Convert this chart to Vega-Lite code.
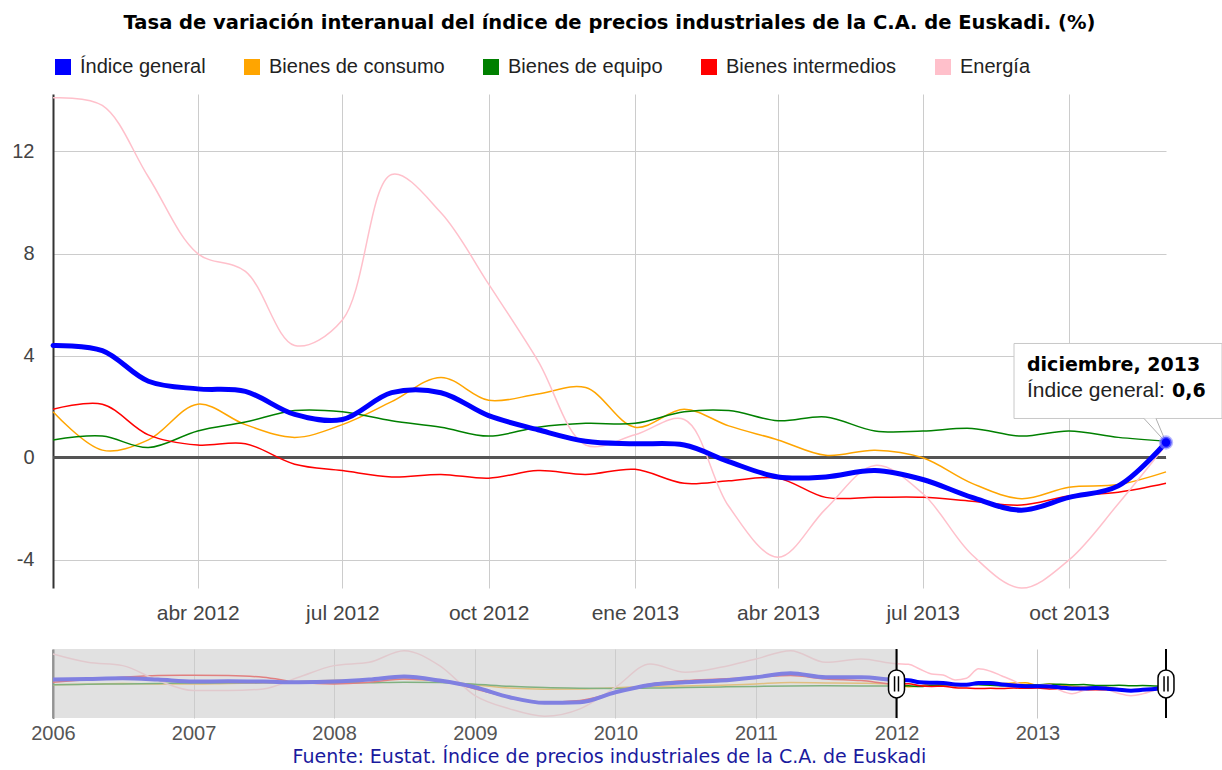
{
  "$schema": "https://vega.github.io/schema/vega-lite/v6.json",
  "padding": {"left": 11, "top": 12, "right": 0, "bottom": 0},
  "background": "white",
  "bounds": "flush",
  "spacing": 61,
  "resolve": {"scale": {"color": "independent"}, "legend": {"color": "independent"}},
  "config": {"view": {"stroke": null}, "axis": {"labelFont": "Liberation Sans", "titleFont": "Liberation Sans"}},
  "datasets": {
    "series": [
      {"fecha":"2006-01-01","serie":"Índice general","valor":4.6},{"fecha":"2006-04-01","serie":"Índice general","valor":5.0},{"fecha":"2006-07-01","serie":"Índice general","valor":5.4},{"fecha":"2006-10-01","serie":"Índice general","valor":4.6},
      {"fecha":"2007-01-01","serie":"Índice general","valor":3.4},{"fecha":"2007-04-01","serie":"Índice general","valor":3.6},{"fecha":"2007-07-01","serie":"Índice general","valor":3.4},{"fecha":"2007-10-01","serie":"Índice general","valor":3.0},
      {"fecha":"2008-01-01","serie":"Índice general","valor":3.4},{"fecha":"2008-04-01","serie":"Índice general","valor":4.6},{"fecha":"2008-07-01","serie":"Índice general","valor":6.4},{"fecha":"2008-10-01","serie":"Índice general","valor":4.0},
      {"fecha":"2009-01-01","serie":"Índice general","valor":0.0},{"fecha":"2009-04-01","serie":"Índice general","valor":-6.0},{"fecha":"2009-07-01","serie":"Índice general","valor":-9.4},{"fecha":"2009-10-01","serie":"Índice general","valor":-9.0},
      {"fecha":"2010-01-01","serie":"Índice general","valor":-3.0},{"fecha":"2010-04-01","serie":"Índice general","valor":1.4},{"fecha":"2010-07-01","serie":"Índice general","valor":3.0},{"fecha":"2010-10-01","serie":"Índice general","valor":4.0},
      {"fecha":"2011-01-01","serie":"Índice general","valor":6.0},{"fecha":"2011-04-01","serie":"Índice general","valor":8.4},{"fecha":"2011-07-01","serie":"Índice general","valor":6.0},{"fecha":"2011-10-01","serie":"Índice general","valor":6.0},
      {"fecha":"2012-01-01","serie":"Índice general","valor":4.4},{"fecha":"2012-02-01","serie":"Índice general","valor":4.2},{"fecha":"2012-03-01","serie":"Índice general","valor":3.0},{"fecha":"2012-04-01","serie":"Índice general","valor":2.7},
      {"fecha":"2012-05-01","serie":"Índice general","valor":2.6},{"fecha":"2012-06-01","serie":"Índice general","valor":1.7},{"fecha":"2012-07-01","serie":"Índice general","valor":1.5},{"fecha":"2012-08-01","serie":"Índice general","valor":2.55},
      {"fecha":"2012-09-01","serie":"Índice general","valor":2.55},{"fecha":"2012-10-01","serie":"Índice general","valor":1.65},{"fecha":"2012-11-01","serie":"Índice general","valor":1.1},{"fecha":"2012-12-01","serie":"Índice general","valor":0.65},
      {"fecha":"2013-01-01","serie":"Índice general","valor":0.55},{"fecha":"2013-02-01","serie":"Índice general","valor":0.5},{"fecha":"2013-03-01","serie":"Índice general","valor":-0.15},{"fecha":"2013-04-01","serie":"Índice general","valor":-0.75},
      {"fecha":"2013-05-01","serie":"Índice general","valor":-0.75},{"fecha":"2013-06-01","serie":"Índice general","valor":-0.5},{"fecha":"2013-07-01","serie":"Índice general","valor":-0.85},{"fecha":"2013-08-01","serie":"Índice general","valor":-1.55},
      {"fecha":"2013-09-01","serie":"Índice general","valor":-2.05},{"fecha":"2013-10-01","serie":"Índice general","valor":-1.55},{"fecha":"2013-11-01","serie":"Índice general","valor":-1.1},{"fecha":"2013-12-01","serie":"Índice general","valor":0.6},

      {"fecha":"2006-01-01","serie":"Bienes de consumo","valor":1.5},{"fecha":"2006-04-01","serie":"Bienes de consumo","valor":1.8},{"fecha":"2006-07-01","serie":"Bienes de consumo","valor":2.2},{"fecha":"2006-10-01","serie":"Bienes de consumo","valor":2.0},
      {"fecha":"2007-01-01","serie":"Bienes de consumo","valor":2.0},{"fecha":"2007-04-01","serie":"Bienes de consumo","valor":2.3},{"fecha":"2007-07-01","serie":"Bienes de consumo","valor":2.5},{"fecha":"2007-10-01","serie":"Bienes de consumo","valor":3.5},
      {"fecha":"2008-01-01","serie":"Bienes de consumo","valor":4.2},{"fecha":"2008-04-01","serie":"Bienes de consumo","valor":4.5},{"fecha":"2008-07-01","serie":"Bienes de consumo","valor":4.8},{"fecha":"2008-10-01","serie":"Bienes de consumo","valor":3.8},
      {"fecha":"2009-01-01","serie":"Bienes de consumo","valor":1.5},{"fecha":"2009-04-01","serie":"Bienes de consumo","valor":-0.5},{"fecha":"2009-07-01","serie":"Bienes de consumo","valor":-1.2},{"fecha":"2009-10-01","serie":"Bienes de consumo","valor":-1.0},
      {"fecha":"2010-01-01","serie":"Bienes de consumo","valor":-0.3},{"fecha":"2010-04-01","serie":"Bienes de consumo","valor":0.4},{"fecha":"2010-07-01","serie":"Bienes de consumo","valor":0.8},{"fecha":"2010-10-01","serie":"Bienes de consumo","valor":1.2},
      {"fecha":"2011-01-01","serie":"Bienes de consumo","valor":2.0},{"fecha":"2011-04-01","serie":"Bienes de consumo","valor":2.8},{"fecha":"2011-07-01","serie":"Bienes de consumo","valor":2.6},{"fecha":"2011-10-01","serie":"Bienes de consumo","valor":2.4},
      {"fecha":"2012-01-01","serie":"Bienes de consumo","valor":1.8},{"fecha":"2012-02-01","serie":"Bienes de consumo","valor":0.3},{"fecha":"2012-03-01","serie":"Bienes de consumo","valor":0.7},{"fecha":"2012-04-01","serie":"Bienes de consumo","valor":2.1},
      {"fecha":"2012-05-01","serie":"Bienes de consumo","valor":1.3},{"fecha":"2012-06-01","serie":"Bienes de consumo","valor":0.8},{"fecha":"2012-07-01","serie":"Bienes de consumo","valor":1.3},{"fecha":"2012-08-01","serie":"Bienes de consumo","valor":2.2},
      {"fecha":"2012-09-01","serie":"Bienes de consumo","valor":3.15},{"fecha":"2012-10-01","serie":"Bienes de consumo","valor":2.25},{"fecha":"2012-11-01","serie":"Bienes de consumo","valor":2.5},{"fecha":"2012-12-01","serie":"Bienes de consumo","valor":2.75},
      {"fecha":"2013-01-01","serie":"Bienes de consumo","valor":1.2},{"fecha":"2013-02-01","serie":"Bienes de consumo","valor":1.9},{"fecha":"2013-03-01","serie":"Bienes de consumo","valor":1.25},{"fecha":"2013-04-01","serie":"Bienes de consumo","valor":0.7},
      {"fecha":"2013-05-01","serie":"Bienes de consumo","valor":0.1},{"fecha":"2013-06-01","serie":"Bienes de consumo","valor":0.3},{"fecha":"2013-07-01","serie":"Bienes de consumo","valor":0.0},{"fecha":"2013-08-01","serie":"Bienes de consumo","valor":-1.0},
      {"fecha":"2013-09-01","serie":"Bienes de consumo","valor":-1.6},{"fecha":"2013-10-01","serie":"Bienes de consumo","valor":-1.15},{"fecha":"2013-11-01","serie":"Bienes de consumo","valor":-1.05},{"fecha":"2013-12-01","serie":"Bienes de consumo","valor":-0.55},

      {"fecha":"2006-01-01","serie":"Bienes de equipo","valor":1.5},{"fecha":"2006-04-01","serie":"Bienes de equipo","valor":1.8},{"fecha":"2006-07-01","serie":"Bienes de equipo","valor":2.0},{"fecha":"2006-10-01","serie":"Bienes de equipo","valor":2.3},
      {"fecha":"2007-01-01","serie":"Bienes de equipo","valor":2.5},{"fecha":"2007-04-01","serie":"Bienes de equipo","valor":2.7},{"fecha":"2007-07-01","serie":"Bienes de equipo","valor":2.8},{"fecha":"2007-10-01","serie":"Bienes de equipo","valor":2.6},
      {"fecha":"2008-01-01","serie":"Bienes de equipo","valor":2.5},{"fecha":"2008-04-01","serie":"Bienes de equipo","valor":2.7},{"fecha":"2008-07-01","serie":"Bienes de equipo","valor":3.0},{"fecha":"2008-10-01","serie":"Bienes de equipo","valor":2.8},
      {"fecha":"2009-01-01","serie":"Bienes de equipo","valor":1.8},{"fecha":"2009-04-01","serie":"Bienes de equipo","valor":0.6},{"fecha":"2009-07-01","serie":"Bienes de equipo","valor":-0.2},{"fecha":"2009-10-01","serie":"Bienes de equipo","valor":-0.6},
      {"fecha":"2010-01-01","serie":"Bienes de equipo","valor":-0.8},{"fecha":"2010-04-01","serie":"Bienes de equipo","valor":-0.5},{"fecha":"2010-07-01","serie":"Bienes de equipo","valor":-0.2},{"fecha":"2010-10-01","serie":"Bienes de equipo","valor":0.2},
      {"fecha":"2011-01-01","serie":"Bienes de equipo","valor":0.5},{"fecha":"2011-04-01","serie":"Bienes de equipo","valor":0.8},{"fecha":"2011-07-01","serie":"Bienes de equipo","valor":0.9},{"fecha":"2011-10-01","serie":"Bienes de equipo","valor":0.8},
      {"fecha":"2012-01-01","serie":"Bienes de equipo","valor":0.7},{"fecha":"2012-02-01","serie":"Bienes de equipo","valor":0.85},{"fecha":"2012-03-01","serie":"Bienes de equipo","valor":0.4},{"fecha":"2012-04-01","serie":"Bienes de equipo","valor":1.05},
      {"fecha":"2012-05-01","serie":"Bienes de equipo","valor":1.4},{"fecha":"2012-06-01","serie":"Bienes de equipo","valor":1.85},{"fecha":"2012-07-01","serie":"Bienes de equipo","valor":1.8},{"fecha":"2012-08-01","serie":"Bienes de equipo","valor":1.45},
      {"fecha":"2012-09-01","serie":"Bienes de equipo","valor":1.2},{"fecha":"2012-10-01","serie":"Bienes de equipo","valor":0.85},{"fecha":"2012-11-01","serie":"Bienes de equipo","valor":1.2},{"fecha":"2012-12-01","serie":"Bienes de equipo","valor":1.35},
      {"fecha":"2013-01-01","serie":"Bienes de equipo","valor":1.35},{"fecha":"2013-02-01","serie":"Bienes de equipo","valor":1.8},{"fecha":"2013-03-01","serie":"Bienes de equipo","valor":1.85},{"fecha":"2013-04-01","serie":"Bienes de equipo","valor":1.45},
      {"fecha":"2013-05-01","serie":"Bienes de equipo","valor":1.6},{"fecha":"2013-06-01","serie":"Bienes de equipo","valor":1.05},{"fecha":"2013-07-01","serie":"Bienes de equipo","valor":1.05},{"fecha":"2013-08-01","serie":"Bienes de equipo","valor":1.15},
      {"fecha":"2013-09-01","serie":"Bienes de equipo","valor":0.85},{"fecha":"2013-10-01","serie":"Bienes de equipo","valor":1.05},{"fecha":"2013-11-01","serie":"Bienes de equipo","valor":0.8},{"fecha":"2013-12-01","serie":"Bienes de equipo","valor":0.65},

      {"fecha":"2006-01-01","serie":"Bienes intermedios","valor":3.0},{"fecha":"2006-04-01","serie":"Bienes intermedios","valor":4.5},{"fecha":"2006-07-01","serie":"Bienes intermedios","valor":6.0},{"fecha":"2006-10-01","serie":"Bienes intermedios","valor":7.0},
      {"fecha":"2007-01-01","serie":"Bienes intermedios","valor":7.2},{"fecha":"2007-04-01","serie":"Bienes intermedios","valor":7.0},{"fecha":"2007-07-01","serie":"Bienes intermedios","valor":6.0},{"fecha":"2007-10-01","serie":"Bienes intermedios","valor":3.0},
      {"fecha":"2008-01-01","serie":"Bienes intermedios","valor":2.0},{"fecha":"2008-04-01","serie":"Bienes intermedios","valor":3.0},{"fecha":"2008-07-01","serie":"Bienes intermedios","valor":5.0},{"fecha":"2008-10-01","serie":"Bienes intermedios","valor":4.0},
      {"fecha":"2009-01-01","serie":"Bienes intermedios","valor":-1.0},{"fecha":"2009-04-01","serie":"Bienes intermedios","valor":-6.0},{"fecha":"2009-07-01","serie":"Bienes intermedios","valor":-9.0},{"fecha":"2009-10-01","serie":"Bienes intermedios","valor":-8.0},
      {"fecha":"2010-01-01","serie":"Bienes intermedios","valor":-3.0},{"fecha":"2010-04-01","serie":"Bienes intermedios","valor":2.0},{"fecha":"2010-07-01","serie":"Bienes intermedios","valor":4.0},{"fecha":"2010-10-01","serie":"Bienes intermedios","valor":5.0},
      {"fecha":"2011-01-01","serie":"Bienes intermedios","valor":6.0},{"fecha":"2011-04-01","serie":"Bienes intermedios","valor":7.0},{"fecha":"2011-07-01","serie":"Bienes intermedios","valor":5.0},{"fecha":"2011-10-01","serie":"Bienes intermedios","valor":4.0},
      {"fecha":"2012-01-01","serie":"Bienes intermedios","valor":1.9},{"fecha":"2012-02-01","serie":"Bienes intermedios","valor":2.1},{"fecha":"2012-03-01","serie":"Bienes intermedios","valor":0.9},{"fecha":"2012-04-01","serie":"Bienes intermedios","valor":0.5},
      {"fecha":"2012-05-01","serie":"Bienes intermedios","valor":0.55},{"fecha":"2012-06-01","serie":"Bienes intermedios","valor":-0.25},{"fecha":"2012-07-01","serie":"Bienes intermedios","valor":-0.5},{"fecha":"2012-08-01","serie":"Bienes intermedios","valor":-0.75},
      {"fecha":"2012-09-01","serie":"Bienes intermedios","valor":-0.65},{"fecha":"2012-10-01","serie":"Bienes intermedios","valor":-0.8},{"fecha":"2012-11-01","serie":"Bienes intermedios","valor":-0.5},{"fecha":"2012-12-01","serie":"Bienes intermedios","valor":-0.65},
      {"fecha":"2013-01-01","serie":"Bienes intermedios","valor":-0.45},{"fecha":"2013-02-01","serie":"Bienes intermedios","valor":-1.0},{"fecha":"2013-03-01","serie":"Bienes intermedios","valor":-0.9},{"fecha":"2013-04-01","serie":"Bienes intermedios","valor":-0.8},
      {"fecha":"2013-05-01","serie":"Bienes intermedios","valor":-1.55},{"fecha":"2013-06-01","serie":"Bienes intermedios","valor":-1.55},{"fecha":"2013-07-01","serie":"Bienes intermedios","valor":-1.55},{"fecha":"2013-08-01","serie":"Bienes intermedios","valor":-1.7},
      {"fecha":"2013-09-01","serie":"Bienes intermedios","valor":-1.85},{"fecha":"2013-10-01","serie":"Bienes intermedios","valor":-1.5},{"fecha":"2013-11-01","serie":"Bienes intermedios","valor":-1.35},{"fecha":"2013-12-01","serie":"Bienes intermedios","valor":-1.0},

      {"fecha":"2006-01-01","serie":"Energía","valor":20},{"fecha":"2006-04-01","serie":"Energía","valor":15},{"fecha":"2006-07-01","serie":"Energía","valor":13},{"fecha":"2006-10-01","serie":"Energía","valor":4},
      {"fecha":"2007-01-01","serie":"Energía","valor":-2},{"fecha":"2007-04-01","serie":"Energía","valor":-2},{"fecha":"2007-07-01","serie":"Energía","valor":-1},{"fecha":"2007-10-01","serie":"Energía","valor":6},
      {"fecha":"2008-01-01","serie":"Energía","valor":13},{"fecha":"2008-04-01","serie":"Energía","valor":15},{"fecha":"2008-07-01","serie":"Energía","valor":22},{"fecha":"2008-10-01","serie":"Energía","valor":13},
      {"fecha":"2009-01-01","serie":"Energía","valor":-5},{"fecha":"2009-04-01","serie":"Energía","valor":-13},{"fecha":"2009-07-01","serie":"Energía","valor":-17.4},{"fecha":"2009-10-01","serie":"Energía","valor":-13},
      {"fecha":"2010-01-01","serie":"Energía","valor":0},{"fecha":"2010-04-01","serie":"Energía","valor":14},{"fecha":"2010-07-01","serie":"Energía","valor":9},{"fecha":"2010-10-01","serie":"Energía","valor":12},
      {"fecha":"2011-01-01","serie":"Energía","valor":17},{"fecha":"2011-04-01","serie":"Energía","valor":22},{"fecha":"2011-07-01","serie":"Energía","valor":15},{"fecha":"2011-10-01","serie":"Energía","valor":17},
      {"fecha":"2012-01-01","serie":"Energía","valor":14.1},{"fecha":"2012-02-01","serie":"Energía","valor":13.8},{"fecha":"2012-03-01","serie":"Energía","valor":11.0},{"fecha":"2012-04-01","serie":"Energía","valor":8.0},
      {"fecha":"2012-05-01","serie":"Energía","valor":7.3},{"fecha":"2012-06-01","serie":"Energía","valor":4.4},{"fecha":"2012-07-01","serie":"Energía","valor":5.4},{"fecha":"2012-08-01","serie":"Energía","valor":11.1},
      {"fecha":"2012-09-01","serie":"Energía","valor":9.6},{"fecha":"2012-10-01","serie":"Energía","valor":6.8},{"fecha":"2012-11-01","serie":"Energía","valor":3.8},{"fecha":"2012-12-01","serie":"Energía","valor":0.5},
      {"fecha":"2013-01-01","serie":"Energía","valor":0.9},{"fecha":"2013-02-01","serie":"Energía","valor":1.5},{"fecha":"2013-03-01","serie":"Energía","valor":-1.9},{"fecha":"2013-04-01","serie":"Energía","valor":-3.9},
      {"fecha":"2013-05-01","serie":"Energía","valor":-2.0},{"fecha":"2013-06-01","serie":"Energía","valor":-0.3},{"fecha":"2013-07-01","serie":"Energía","valor":-1.4},{"fecha":"2013-08-01","serie":"Energía","valor":-3.8},
      {"fecha":"2013-09-01","serie":"Energía","valor":-5.1},{"fecha":"2013-10-01","serie":"Energía","valor":-4.0},{"fecha":"2013-11-01","serie":"Energía","valor":-1.8},{"fecha":"2013-12-01","serie":"Energía","valor":0.5}
    ],
    "anotacion": [{"fecha":"2013-12-01","valor":0.6,"mes":"diciembre, 2013","etiqueta":"Índice general:","dato":"0,6"}],
    "seleccion": [{"inicio":"2006-01-01","fin":"2012-01-01"}],
    "asas": [{"fecha":"2012-01-01"},{"fecha":"2013-12-01"}]
  },
  "vconcat": [
    {
      "title": {"text": "Tasa de variación interanual del índice de precios industriales de la C.A. de Euskadi. (%)", "font": "DejaVu Sans", "fontSize": 19.5, "fontWeight": "bold", "color": "#000000", "anchor": "middle", "frame": "group", "offset": 24},
      "width": 1113,
      "height": 494,
      "layer": [
        {
          "data": {"name": "series"},
          "mark": {"type": "rule", "color": "#555555", "strokeWidth": 2},
          "encoding": {"y": {"datum": 0, "type": "quantitative", "scale": {"domain": [-5.1, 14.25], "nice": false, "zero": false}}}
        },
        {
          "data": {"name": "series"},
          "transform": [{"filter": "utcyear(datum.fecha) >= 2012 && datum.serie != 'Índice general'"}],
          "mark": {"type": "line", "interpolate": "catmull-rom", "strokeWidth": 1.5},
          "encoding": {
            "x": {"field": "fecha", "type": "temporal",
              "scale": {"type": "utc", "domain": [{"year": 2012, "month": 1, "date": 1, "utc": true}, {"year": 2013, "month": 12, "date": 1, "utc": true}]},
              "axis": {"title": null, "values": [{"year": 2012, "month": 4, "date": 1, "utc": true}, {"year": 2012, "month": 7, "date": 1, "utc": true}, {"year": 2012, "month": 10, "date": 1, "utc": true}, {"year": 2013, "month": 1, "date": 1, "utc": true}, {"year": 2013, "month": 4, "date": 1, "utc": true}, {"year": 2013, "month": 7, "date": 1, "utc": true}, {"year": 2013, "month": 10, "date": 1, "utc": true}],
                "labelExpr": "['ene','feb','mar','abr','may','jun','jul','ago','sep','oct','nov','dic'][utcmonth(datum.value)] + ' ' + utcyear(datum.value)",
                "domain": false, "ticks": false, "grid": true, "gridColor": "#cccccc", "gridWidth": 1,
                "labelFont": "Liberation Sans", "labelFontSize": 21, "labelColor": "#444444", "labelPadding": 14, "labelFlush": false, "labelOverlap": false}},
            "y": {"field": "valor", "type": "quantitative",
              "scale": {"domain": [-5.1, 14.25], "nice": false, "zero": false},
              "axis": {"title": null, "values": [-4, 0, 4, 8, 12], "labelExpr": "'' + datum.value", "domain": true, "domainColor": "#333333", "domainWidth": 2, "ticks": false, "grid": true, "gridColor": "#cccccc", "gridWidth": 1,
                "labelFont": "Liberation Sans", "labelFontSize": 20, "labelColor": "#444444", "labelPadding": 19, "labelFlush": false}},
            "color": {"field": "serie", "type": "nominal",
              "scale": {"domain": ["Índice general", "Bienes de consumo", "Bienes de equipo", "Bienes intermedios", "Energía"], "range": ["#0000ff", "#ffa500", "#008000", "#ff0000", "#ffc0cb"]},
              "legend": {"orient": "none", "legendX": 0, "legendY": -37, "direction": "horizontal", "title": null,
                "symbolType": "square", "symbolSize": 64, "symbolStrokeWidth": 8, "symbolOpacity": 1,
                "labelFont": "Liberation Sans", "labelFontSize": 20, "labelColor": "#222222", "labelOffset": 7, "labelLimit": 0,
                "columnPadding": 26, "padding": 0,
                "encode": {"symbols": {"update": {"strokeWidth": {"value": 8}, "opacity": {"value": 1}}}}}}
          }
        },
        {
          "data": {"name": "series"},
          "transform": [{"filter": "utcyear(datum.fecha) >= 2012 && datum.serie == 'Índice general'"}],
          "mark": {"type": "line", "interpolate": "catmull-rom", "strokeWidth": 5, "strokeCap": "round"},
          "encoding": {
            "x": {"field": "fecha", "type": "temporal", "scale": {"type": "utc", "domain": [{"year": 2012, "month": 1, "date": 1, "utc": true}, {"year": 2013, "month": 12, "date": 1, "utc": true}]}},
            "y": {"field": "valor", "type": "quantitative", "scale": {"domain": [-5.1, 14.25], "nice": false, "zero": false}},
            "color": {"field": "serie", "type": "nominal"}
          }
        },
        {
          "data": {"name": "anotacion"},
          "mark": {"type": "rect", "fill": "#ffffff", "stroke": "#c8c8c8", "strokeWidth": 1, "xOffset": -152, "x2Offset": 56, "yOffset": -99, "y2Offset": -24},
          "encoding": {
            "x": {"field": "fecha", "type": "temporal"}, "x2": {"field": "fecha"},
            "y": {"field": "valor", "type": "quantitative"}, "y2": {"field": "valor"}
          }
        },
        {
          "data": {"name": "anotacion"},
          "mark": {"type": "point", "shape": "M-0.917,-1 L0,0 L-0.417,-1", "size": 2304, "filled": true, "fill": "#ffffff", "stroke": "#b0b0b0", "strokeWidth": 1, "opacity": 1},
          "encoding": {"x": {"field": "fecha", "type": "temporal"}, "y": {"field": "valor", "type": "quantitative"}}
        },
        {
          "data": {"name": "anotacion"},
          "mark": {"type": "point", "filled": true, "fill": "#0000ff", "stroke": "#8c8cff", "strokeWidth": 3, "strokeOpacity": 0.6, "size": 130, "opacity": 1},
          "encoding": {"x": {"field": "fecha", "type": "temporal"}, "y": {"field": "valor", "type": "quantitative"}}
        },
        {
          "data": {"name": "anotacion"},
          "mark": {"type": "text", "align": "left", "baseline": "alphabetic", "dx": -139, "dy": -71, "font": "DejaVu Sans", "fontWeight": "bold", "fontSize": 19, "color": "#000000"},
          "encoding": {"x": {"field": "fecha", "type": "temporal"}, "y": {"field": "valor", "type": "quantitative"}, "text": {"field": "mes"}}
        },
        {
          "data": {"name": "anotacion"},
          "mark": {"type": "text", "align": "left", "baseline": "alphabetic", "dx": -139, "dy": -45, "font": "Liberation Sans", "fontSize": 21, "color": "#222222"},
          "encoding": {"x": {"field": "fecha", "type": "temporal"}, "y": {"field": "valor", "type": "quantitative"}, "text": {"field": "etiqueta"}}
        },
        {
          "data": {"name": "anotacion"},
          "mark": {"type": "text", "align": "left", "baseline": "alphabetic", "dx": 6, "dy": -45, "font": "DejaVu Sans", "fontWeight": "bold", "fontSize": 19, "color": "#000000"},
          "encoding": {"x": {"field": "fecha", "type": "temporal"}, "y": {"field": "valor", "type": "quantitative"}, "text": {"field": "dato"}}
        }
      ]
    },
    {
      "title": {"text": "Fuente: Eustat. Índice de precios industriales de la C.A. de Euskadi", "orient": "bottom", "anchor": "middle", "frame": "group", "font": "DejaVu Sans", "fontSize": 19, "fontWeight": "normal", "color": "#1a1a9e", "offset": 5},
      "width": 1113,
      "height": 69,
      "layer": [
        {
          "data": {"name": "series"},
          "transform": [{"filter": "datum.serie != 'Índice general'"}],
          "mark": {"type": "line", "interpolate": "monotone", "strokeWidth": 1.5},
          "encoding": {
            "x": {"field": "fecha", "type": "temporal",
              "scale": {"type": "utc", "domain": [{"year": 2006, "month": 1, "date": 1, "utc": true}, {"year": 2013, "month": 12, "date": 1, "utc": true}]},
              "axis": {"title": null, "values": [{"year": 2006, "month": 1, "date": 1, "utc": true}, {"year": 2007, "month": 1, "date": 1, "utc": true}, {"year": 2008, "month": 1, "date": 1, "utc": true}, {"year": 2009, "month": 1, "date": 1, "utc": true}, {"year": 2010, "month": 1, "date": 1, "utc": true}, {"year": 2011, "month": 1, "date": 1, "utc": true}, {"year": 2012, "month": 1, "date": 1, "utc": true}, {"year": 2013, "month": 1, "date": 1, "utc": true}],
                "labelExpr": "'' + utcyear(datum.value)", "domain": false, "ticks": false, "grid": true, "gridColor": "#c8c8c8",
                "labelFont": "Liberation Sans", "labelFontSize": 20, "labelColor": "#555555", "labelPadding": 5, "labelFlush": false, "labelOverlap": false}},
            "y": {"field": "valor", "type": "quantitative",
              "scale": {"domain": [-18.5, 23], "nice": false, "zero": false},
              "axis": {"title": null, "labels": false, "ticks": false, "grid": false, "domain": true, "domainColor": "#333333", "domainWidth": 2}},
            "color": {"field": "serie", "type": "nominal",
              "scale": {"domain": ["Índice general", "Bienes de consumo", "Bienes de equipo", "Bienes intermedios", "Energía"], "range": ["#0000ff", "#ffa500", "#008000", "#ff0000", "#ffc0cb"]},
              "legend": null}
          }
        },
        {
          "data": {"name": "series"},
          "transform": [{"filter": "datum.serie == 'Índice general'"}],
          "mark": {"type": "line", "interpolate": "monotone", "strokeWidth": 4},
          "encoding": {
            "x": {"field": "fecha", "type": "temporal"},
            "y": {"field": "valor", "type": "quantitative"},
            "color": {"field": "serie", "type": "nominal", "legend": null}
          }
        },
        {
          "data": {"name": "seleccion"},
          "mark": {"type": "rect", "fill": "#cfcfcf", "opacity": 0.62},
          "encoding": {"x": {"field": "inicio", "type": "temporal"}, "x2": {"field": "fin"}}
        },
        {
          "data": {"name": "asas"},
          "mark": {"type": "rule", "color": "#000000", "strokeWidth": 2},
          "encoding": {"x": {"field": "fecha", "type": "temporal"}}
        },
        {
          "data": {"name": "asas"},
          "mark": {"type": "point", "shape": "M-0.57,-0.43 A0.57,0.57 0 0 1 0.57,-0.43 L0.57,0.43 A0.57,0.57 0 0 1 -0.57,0.43 Z M-0.14,-0.55 L-0.14,0.55 M0.14,-0.55 L0.14,0.55", "size": 784, "filled": true, "fill": "#ffffff", "stroke": "#000000", "strokeWidth": 1.5, "opacity": 1},
          "encoding": {"x": {"field": "fecha", "type": "temporal"}, "y": {"datum": 2, "type": "quantitative"}}
        }
      ]
    }
  ]
}
